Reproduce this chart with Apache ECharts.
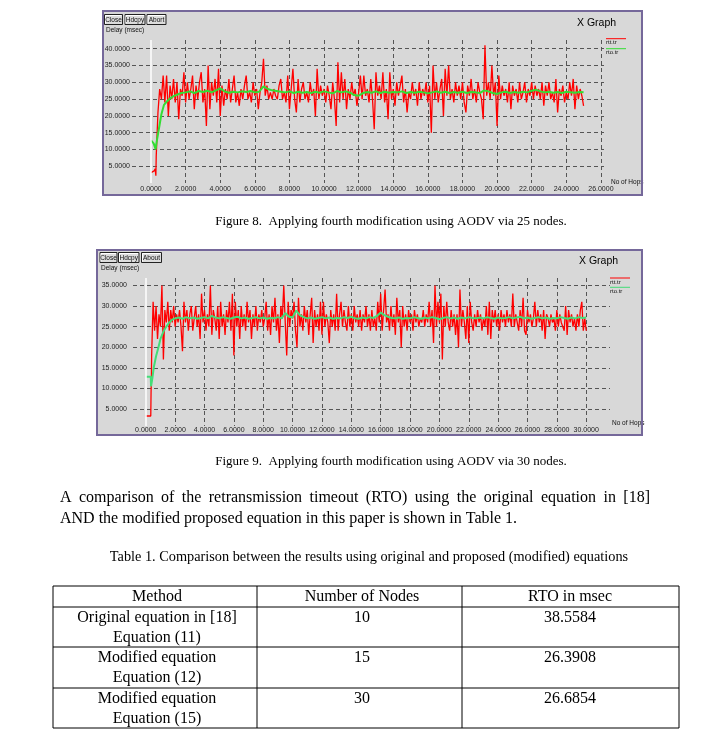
<!DOCTYPE html>
<html><head><meta charset="utf-8">
<script src="https://cdn.jsdelivr.net/npm/echarts@6/dist/echarts.min.js"></script>
<style>html,body{margin:0;padding:0;background:#fff}#c{width:703px;height:740px}</style>
</head><body><div id="c"></div>
<script>
// ---------------- DATA ----------------
const xTicks1 = [0,2,4,6,8,10,12,14,16,18,20,22,24,26];
const yTicks1 = [5,10,15,20,25,30,35,40];
const xTicks2 = [0,2,4,6,8,10,12,14,16,18,20,22,24,26,28,30];
const yTicks2 = [5,10,15,20,25,30,35];

// Figure 8 (25 nodes) - rtt.tr
const rtt1Head = [[0,3.1],[0.18,3.6],[0.24,4.2],[0.28,2.2]];
const rtt1Start = 0.3, rtt1Step = 0.1;
const rtt1 = [
 8,21,28,25,32,24,32,20,29,25,
 31,24,30,19,28,26,33,24,30,25,
 28,32,22,29,25,30,33,24,28,17,
 35,22,30,26,31,24,34,20,29,23,
 28,25,31,24,28,32,24,27,23,28,
 25,29,32,25,27,24,30,26,28,22,
 27,30,37,26,29,25,27,25,28,26,
 25,29,31,25,27,24,32,22,28,34,
 25,21,31,24,28,30,25,27,24,30,
 26,28,20,34,25,29,26,28,24,29,
 26,22,30,25,17,36,24,33,25,31,
 22,28,25,30,26,28,23,27,32,25,
 32,26,28,24,31,25,16,33,26,29,
 25,33,24,28,19,33,25,28,23,30,
 26,29,32,24,28,21,27,25,30,26,
 28,23,30,25,28,26,30,24,29,15,
 35,25,30,24,28,31,20,34,26,35,
 25,28,24,30,26,29,25,30,24,21,
 29,26,31,25,28,24,30,27,25,19,
 41,26,30,25,35,26,30,17,32,25,
 29,26,28,24,30,22,29,26,28,24,
 30,25,27,30,24,28,26,30,25,29,
 26,28,25,30,23,29,26,30,25,27,
 24,31,21,28,26,29,24,27,25,30,
 26,31,22,29,25,28,26,23
];
// Figure 8 - rto.tr
const rto1Head = [[0,12.7],[0.15,11.8],[0.27,10.0],[0.3,11.5],[0.4,14.5],[0.5,17.5],[0.6,20.5],[0.75,23.3],[0.9,24.2],[1.1,25.2],[1.3,25.9],[1.5,26.3],[1.75,26.8]];
const rto1Start = 2.0, rto1Step = 0.25;
const rto1 = [
 27.0,27.3,26.8,27.4,27.1,27.5,27.0,27.6,28.2,27.3,26.9,27.2,
 27.0,27.3,27.1,27.4,27.0,27.2,28.8,28.0,27.6,27.4,27.2,27.0,
 27.3,26.8,27.2,26.9,27.1,26.8,27.2,26.9,27.3,27.0,26.7,27.4,
 27.0,27.3,26.9,26.2,26.0,26.8,27.1,26.9,27.3,26.8,27.2,26.9,
 27.1,27.0,27.3,26.8,27.1,26.9,27.2,27.0,26.7,27.0,27.3,26.9,
 27.2,26.8,27.1,26.9,27.2,26.8,27.1,27.0,26.8,27.6,27.3,26.8,
 26.5,27.0,27.2,26.8,27.1,26.9,27.2,27.0,27.5,27.8,27.3,27.0,
 27.2,26.9,27.1,26.8,27.2,27.0,26.9,27.1,27.0
];

// Figure 9 (30 nodes) - rtt.tr
const rtt2Head = [[0,3.3],[0.34,3.3],[0.36,9],[0.38,12]];
const rtt2Start = 0.4, rtt2Step = 0.1;
const rtt2 = [
 18,31,24,30,22,28,25,35,17,29,
 26,31,24,29,26,30,25,28,26,29,
 25,19,31,26,29,24,28,30,24,27,
 30,25,28,22,33,26,29,24,28,25,
 35,23,29,27,24,30,22,31,25,28,
 23,29,26,31,24,33,18,31,25,29,
 22,30,25,28,24,31,26,29,22,28,
 25,30,24,28,26,29,25,27,31,24,
 28,23,30,26,32,24,28,21,30,27,
 35,26,18,31,25,29,27,31,24,20,
 32,25,28,24,30,26,29,23,28,32,
 21,29,25,28,24,31,23,31,25,28,
 26,21,29,25,28,24,33,24,28,31,
 25,29,26,24,30,25,28,24,30,26,
 28,25,29,24,28,26,30,25,28,24,
 29,25,27,24,31,26,33,24,29,34,
 26,28,24,30,25,28,23,32,26,29,
 20,30,25,28,24,29,26,28,24,29,
 26,28,25,27,26,29,25,28,26,31,
 25,29,21,35,25,31,26,33,17,30,
 25,31,26,24,29,25,28,23,28,20,
 34,25,29,26,22,30,21,31,26,24,
 28,25,29,26,28,24,27,25,30,23,
 31,22,29,26,29,25,28,24,29,26,
 28,25,29,26,28,25,33,25,28,26,
 24,29,25,32,24,23,29,26,28,25,
 27,31,25,29,26,28,24,29,22,28,
 27,25,28,26,27,24,29,25,28,26,
 25,24,30,23,29,26,28,25,27,24,
 28,25,29,31,24,27,24
];
// Figure 9 - rto.tr
const rto2Head = [[0,12.8],[0.34,12.8],[0.36,10.5],[0.45,12.5],[0.55,15.2],[0.7,17.8],[0.85,19.8],[1.0,22.0],[1.2,23.8],[1.4,25.0],[1.6,26.0],[1.8,26.7]];
const rto2Start = 2.0, rto2Step = 0.25;
const rto2 = [
 27.0,27.2,26.9,27.3,27.0,27.2,26.9,27.1,27.3,27.0,27.6,27.2,
 27.0,27.3,27.1,26.9,27.2,27.4,27.0,27.2,26.9,27.1,27.3,27.0,
 27.2,26.9,27.1,27.0,27.3,27.0,28.3,27.4,27.2,28.9,27.8,27.3,
 27.0,27.2,26.9,27.1,27.3,27.0,27.2,26.9,27.1,27.0,27.3,27.1,
 27.4,27.0,26.9,27.2,27.0,27.3,27.1,27.6,28.4,27.8,27.4,27.1,
 27.0,27.2,26.9,27.1,27.0,27.3,27.1,26.9,27.2,27.0,27.3,27.1,
 26.8,27.1,27.3,27.0,27.2,26.9,27.2,27.0,27.3,27.1,27.0,27.2,
 27.0,27.3,27.1,26.9,27.2,27.0,27.1,27.3,27.0,27.2,27.4,27.0,
 27.2,26.9,27.1,27.3,27.0,27.2,26.9,27.1,27.0,27.3,27.1,26.9,
 27.2,27.0,27.3,27.1,27.2
];

const seriesNames = ['rtt.tr','rto.tr'];
const buttons1 = ['Close','Hdcpy','Abort'];
const buttons2 = ['Close','Hdcpy','About'];
const yAxisName = 'Delay (msec)';
const xAxisName = 'No of Hops';
const graphTitle = 'X Graph';
const caption8 = 'Figure 8.  Applying fourth modification using AODV via 25 nodes.';
const caption9 = 'Figure 9.  Applying fourth modification using AODV via 30 nodes.';
const paraLines = ['A comparison of the retransmission timeout (RTO) using the original equation in [18]',
                   'AND the modified proposed equation in this paper is shown in Table 1.'];
const tableCaption = 'Table 1. Comparison between the results using original and proposed (modified) equations';
const tableHeader = ['Method','Number of Nodes','RTO in msec'];
const tableMethods = [['Original equation in [18]','Equation (11)'],['Modified equation','Equation (12)'],['Modified equation','Equation (15)']];
const tableNodes = ['10','15','30'];
const tableRTO = ['38.5584','26.3908','26.6854'];

// ---------------- BUILD ----------------
function build(head, start, step, vals){
  return head.concat(vals.map((v,i)=>[+(start+i*step).toFixed(3), v]));
}
const SANS = 'Liberation Sans, Arial, sans-serif';
const SERIF = 'Liberation Serif, Times New Roman, serif';
const GRID_BG = '#d8d8d8';
const FRAME = '#75689a';
const GRIDLINE = {color:'#555555', type:[4,3], width:1};
const fmt = v => v.toFixed(4);
const noZero = a => a.filter(v => v !== 0);

function xAx(grid, min, max, ticks, margin){
  return {gridIndex:grid, type:'value', min:min, max:max,
    axisLine:{show:false}, axisTick:{show:false, customValues:noZero(ticks)},
    axisLabel:{customValues:ticks, formatter:fmt, fontSize:7, color:'#222', margin:margin, fontFamily:SANS},
    splitLine:{show:true, lineStyle:GRIDLINE}};
}
function yAx(grid, min, max, ticks, margin){
  return {gridIndex:grid, type:'value', min:min, max:max,
    axisLine:{show:false}, axisTick:{show:false, customValues:ticks},
    axisLabel:{customValues:ticks, formatter:fmt, fontSize:7, color:'#222', margin:margin, fontFamily:SANS},
    splitLine:{show:true, lineStyle:GRIDLINE}};
}

const g = [];
function rect(x,y,w,h,fill,stroke,lw,z){ g.push({type:'rect', z:z, silent:true, shape:{x:x,y:y,width:w,height:h}, style:{fill:fill, stroke:stroke, lineWidth:lw||1}}); }
function line(x1,y1,x2,y2,color,lw,z){ g.push({type:'line', z:z||5, silent:true, shape:{x1:x1,y1:y1,x2:x2,y2:y2}, style:{stroke:color, lineWidth:lw||1}}); }
function text(x,y,str,size,font,align,color,z){ g.push({type:'text', z:z||10, silent:true, style:{x:x,y:y,text:str,fontSize:size,fontFamily:font,fill:color||'#000',textAlign:align||'left',textVerticalAlign:'middle'}}); }
function button(x,y,w,h,label){
  rect(x,y,w,h,'#dcdcdc','#222',1,6);
  line(x+1,y+1,x+w-1,y+1,'#fff',1,7);
  line(x+1,y+1,x+1,y+h-1,'#fff',1,7);
  text(x+w/2,y+h/2+0.5,label,6.5,SANS,'center','#111',8);
}
const mctx = document.createElement('canvas').getContext('2d');
function justify(x1,x2,y,str,size,font){
  mctx.font = size + 'px ' + font;
  const words = str.split(' ');
  const wsum = words.reduce((s,w)=>s+mctx.measureText(w).width,0);
  const gap = (x2-x1-wsum)/(words.length-1);
  let x = x1;
  words.forEach(w=>{ text(x,y,w,size,font,'left','#000'); x += mctx.measureText(w).width + gap; });
}

// Graph frames (background)
rect(103,11,539,184,GRID_BG,null,0,-10);
rect(97,250,545,185,GRID_BG,null,0,-10);

// buttons
[[104.5,14.5,18],[125,14.5,20],[147,14.5,19]].forEach((b,i)=>button(b[0],b[1],b[2],10,buttons1[i]));
[[100,252.5,17],[118.5,252.5,20.5],[141.5,252.5,20]].forEach((b,i)=>button(b[0],b[1],b[2],10,buttons2[i]));

// axis titles & graph titles
text(106,30,yAxisName,6.5,SANS,'left','#111');
text(101,268.5,yAxisName,6.5,SANS,'left','#111');
text(577,23,graphTitle,10.5,SANS,'left','#000');
text(579,261.5,graphTitle,10.5,SANS,'left','#000');
text(611,182,xAxisName,6.5,SANS,'left','#111');
text(612,423.5,xAxisName,6.5,SANS,'left','#111');

// legends
line(606,38.7,626,38.7,'#ff0000',1,9); text(606,42.8,seriesNames[0],6,SANS,'left','#111');
line(606,48.7,626,48.7,'#33dd33',1,9); text(606,52.8,seriesNames[1],6,SANS,'left','#111');
line(610,278,630,278,'#ff0000',1,9); text(610,282,seriesNames[0],6,SANS,'left','#111');
line(610,287.3,630,287.3,'#44dd77',1,9); text(610,291.2,seriesNames[1],6,SANS,'left','#111');

// frame borders on top
rect(103,11,539,184,'none',FRAME,2,30);
rect(97,250,545,185,'none',FRAME,2,30);

// captions & paragraph
text(391,222,caption8,13,SERIF,'center','#000');
text(391,462,caption9,13,SERIF,'center','#000');
justify(60,650,498,paraLines[0],16,SERIF);
text(60,519,paraLines[1],16,SERIF,'left','#000');
text(369,557,tableCaption,14.3,SERIF,'center','#000');

// table
const colX = [53,257,462,679];
const rowY = [586,607,647,688,728];
colX.forEach(x=>line(x,rowY[0],x,rowY[4],'#000',1,5));
rowY.forEach(y=>line(colX[0],y,colX[3],y,'#000',1,5));
const colC = [157,362,570];
const TF = 16;
tableHeader.forEach((h,i)=>text(colC[i],597,h,TF,SERIF,'center','#000'));
tableMethods.forEach((m,r)=>{
  text(colC[0],rowY[r+1]+10.5,m[0],TF,SERIF,'center','#000');
  text(colC[0],rowY[r+1]+30.5,m[1],TF,SERIF,'center','#000');
  text(colC[1],rowY[r+1]+10.5,tableNodes[r],TF,SERIF,'center','#000');
  text(colC[2],rowY[r+1]+10.5,tableRTO[r],TF,SERIF,'center','#000');
});

const zeroLine = {silent:true, symbol:['none','none'], label:{show:false}, lineStyle:{color:'#ffffff', type:'solid', width:1.5}, data:[{xAxis:0}]};

const option = {
  backgroundColor:'#ffffff',
  animation:false,
  grid:[
    {left:132, top:40, width:472, height:143},
    {left:133, top:278, width:477, height:148}
  ],
  xAxis:[ xAx(0,-1.1,26.18,xTicks1,3), xAx(1,-0.87,31.62,xTicks2,1) ],
  yAxis:[ yAx(0,0,42.6,yTicks1,2), yAx(1,0.87,36.8,yTicks2,6) ],
  series:[
    {name:seriesNames[0], type:'line', xAxisIndex:0, yAxisIndex:0, showSymbol:false, z:3,
     lineStyle:{color:'#ff0000', width:1.3}, itemStyle:{color:'#ff0000'}, data:build(rtt1Head,rtt1Start,rtt1Step,rtt1),
     markLine:zeroLine},
    {name:seriesNames[1], type:'line', xAxisIndex:0, yAxisIndex:0, showSymbol:false, z:4,
     lineStyle:{color:'#33dd33', width:2}, itemStyle:{color:'#33dd33'}, data:build(rto1Head,rto1Start,rto1Step,rto1)},
    {name:seriesNames[0], type:'line', xAxisIndex:1, yAxisIndex:1, showSymbol:false, z:3,
     lineStyle:{color:'#ff0000', width:1.3}, itemStyle:{color:'#ff0000'}, data:build(rtt2Head,rtt2Start,rtt2Step,rtt2),
     markLine:zeroLine},
    {name:seriesNames[1], type:'line', xAxisIndex:1, yAxisIndex:1, showSymbol:false, z:4,
     lineStyle:{color:'#44dd77', width:2}, itemStyle:{color:'#44dd77'}, data:build(rto2Head,rto2Start,rto2Step,rto2)}
  ],
  graphic:{elements:g}
};
const chart = echarts.init(document.getElementById('c'), null, {renderer:'canvas', width:703, height:740});
chart.setOption(option);
</script>
</body></html>
